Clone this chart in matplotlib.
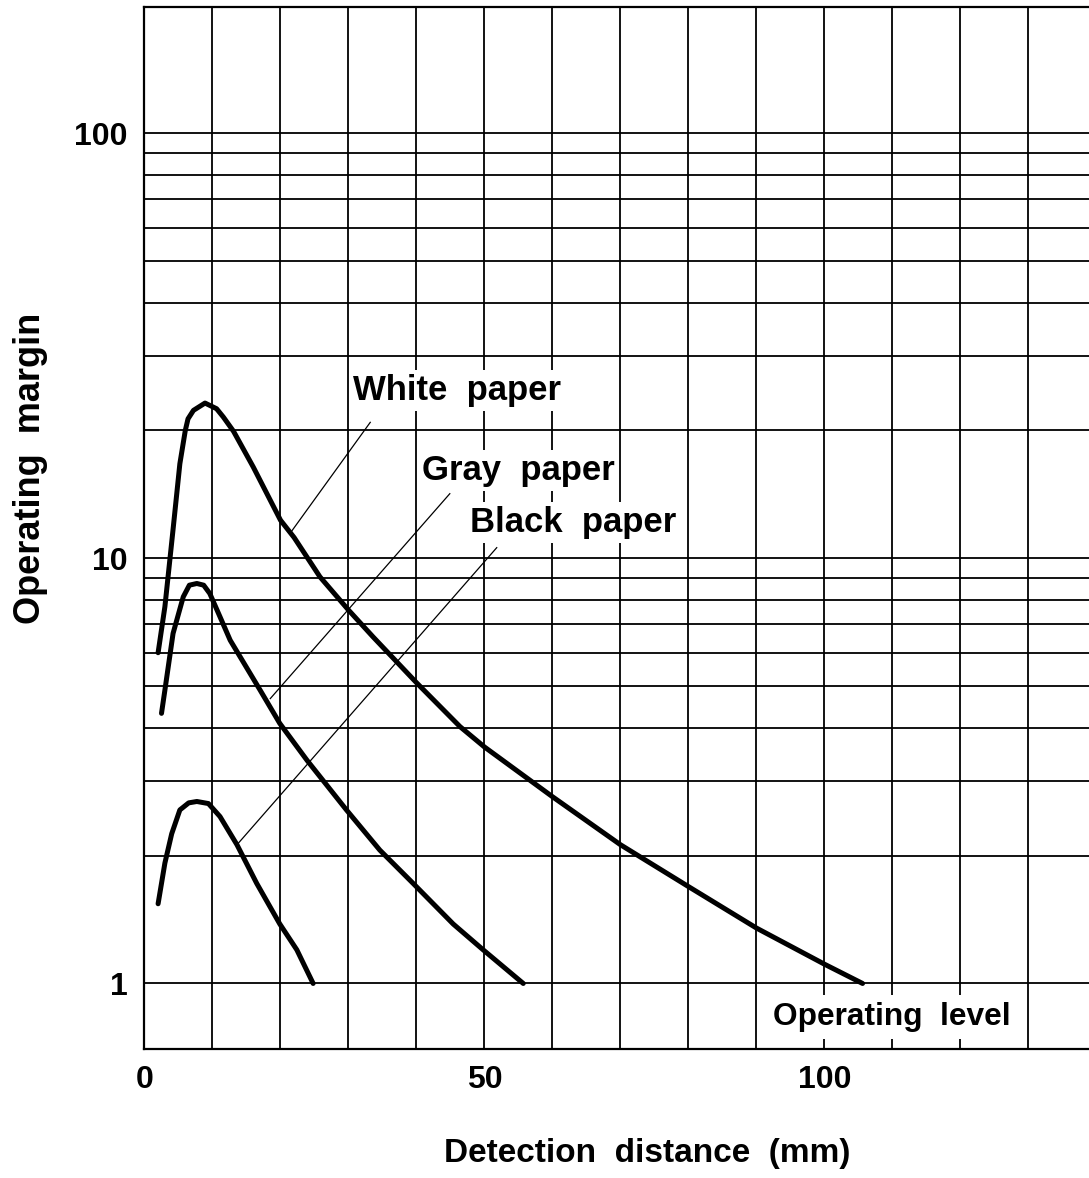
import matplotlib
matplotlib.use('Agg')
import matplotlib.pyplot as plt
from matplotlib.ticker import FixedLocator, FixedFormatter, MultipleLocator, NullFormatter

# ---- data ----
white_x = [2.0, 3.0, 4.2, 5.2, 6.0, 6.4, 7.2, 8.9, 10.6, 11.6, 13.1, 16.0, 20.0, 22.0,
           25.8, 30.0, 33.6, 40.0, 46.4, 50.0, 60.0, 70.0, 80.0, 90.0, 100.0, 105.6]
white_y = [6.0, 7.7, 11.7, 16.7, 20.0, 21.3, 22.3, 23.2, 22.5, 21.5, 19.9, 16.4, 12.3, 11.2,
           9.05, 7.56, 6.54, 5.1, 4.02, 3.6, 2.75, 2.12, 1.69, 1.35, 1.11, 1.0]

gray_x = [2.5, 3.0, 4.2, 5.7, 6.6, 7.7, 8.7, 9.6, 11.1, 12.6, 17.0, 19.9, 23.9,
          29.7, 34.6, 39.5, 45.4, 49.8, 55.7]
gray_y = [4.32, 4.9, 6.66, 8.12, 8.65, 8.73, 8.65, 8.27, 7.29, 6.42, 4.90, 4.09, 3.35,
          2.56, 2.06, 1.72, 1.38, 1.20, 1.0]

black_x = [2.0, 3.0, 4.0, 5.2, 6.5, 7.7, 9.4, 11.1, 13.6, 16.5, 19.9, 22.4, 24.8]
black_y = [1.54, 1.92, 2.25, 2.56, 2.66, 2.68, 2.65, 2.47, 2.12, 1.72, 1.38, 1.20, 1.0]

# leader lines (label -> curve)
white_leader_x = [33.2, 21.4]
white_leader_y = [20.9, 11.45]
gray_leader_x = [44.9, 18.5]
gray_leader_y = [14.2, 4.68]
black_leader_x = [51.8, 13.6]
black_leader_y = [10.6, 2.12]

x_major = [0, 50, 100]
x_labels = ['0', '50', '100']
y_major = [1, 10, 100]
y_labels = ['1', '10', '100']
y_minor = [2, 3, 4, 5, 6, 7, 8, 9, 20, 30, 40, 50, 60, 70, 80, 90]

FONT = 'Liberation Sans'
W = 'bold'

# ---- figure ----
fig = plt.figure(figsize=(10.89, 11.78), dpi=100)
ax = fig.add_axes([0.13269, 0.10925, 0.86731, 0.88506])
ax.set_yscale('log')
ax.set_xlim(0, 138.9)
ax.set_ylim(0.70, 198.6)

ax.xaxis.set_major_locator(FixedLocator(x_major))
ax.xaxis.set_major_formatter(FixedFormatter(x_labels))
ax.xaxis.set_minor_locator(MultipleLocator(10))
ax.xaxis.set_minor_formatter(NullFormatter())
ax.yaxis.set_major_locator(FixedLocator(y_major))
ax.yaxis.set_major_formatter(FixedFormatter(y_labels))
ax.yaxis.set_minor_locator(FixedLocator(y_minor))
ax.yaxis.set_minor_formatter(NullFormatter())

ax.tick_params(which='both', length=0)
ax.tick_params(axis='y', pad=12)
ax.tick_params(axis='x', pad=11)
for lab in ax.get_xticklabels() + ax.get_yticklabels():
    lab.set_fontfamily(FONT)
    lab.set_fontweight(W)
    lab.set_fontsize(23)

ax.set_axisbelow(True)
ax.grid(which='both', color='black', linewidth=1.3)
for s in ['left', 'top', 'bottom']:
    ax.spines[s].set_linewidth(1.6)
ax.spines['right'].set_visible(False)

lw = 3.6
for xs, ys in [(white_x, white_y), (gray_x, gray_y), (black_x, black_y)]:
    ax.plot(xs, ys, color='black', lw=lw, solid_capstyle='round',
            solid_joinstyle='round', zorder=4)

ax.plot(white_leader_x, white_leader_y, color='black', lw=0.9, zorder=3)
ax.plot(gray_leader_x, gray_leader_y, color='black', lw=0.9, zorder=3)
ax.plot(black_leader_x, black_leader_y, color='black', lw=0.9, zorder=3)

box = dict(facecolor='white', edgecolor='none', pad=3)
tkw = dict(family=FONT, weight=W, ha='left', va='baseline', zorder=2.5)
ax.text(30.7, 23.6, 'White  paper', fontsize=25, bbox=box, **tkw)
ax.text(40.8, 15.3, 'Gray  paper', fontsize=25, bbox=box, **tkw)
ax.text(47.8, 11.55, 'Black  paper', fontsize=25, bbox=box, **tkw)
ax.text(92.4, 0.798, 'Operating  level', fontsize=22.8,
        bbox=dict(facecolor='white', edgecolor='none', pad=5), **tkw)

fig.text(647 / 1089, 1 - 1162 / 1178, 'Detection  distance  (mm)', fontsize=24,
         family=FONT, weight=W, ha='center', va='baseline')
fig.text(31 / 1089, 1 - 468 / 1178, 'Operating  margin', fontsize=26,
         family=FONT, weight=W, ha='center', va='center', rotation=90)

fig.savefig('out.png', dpi=100)
